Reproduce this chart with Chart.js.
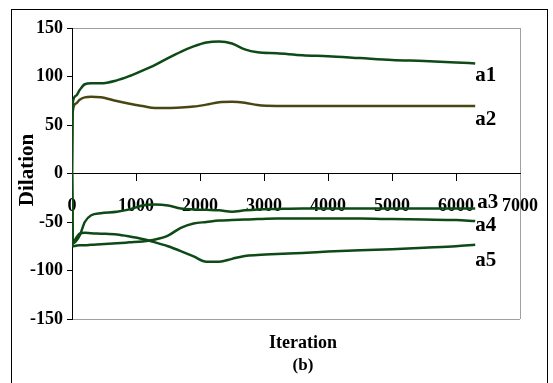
<!DOCTYPE html>
<html>
<head>
<meta charset="utf-8">
<script src="https://cdn.jsdelivr.net/npm/chart.js@4.4.1/dist/chart.umd.min.js"></script>
<style>
  html, body { margin: 0; padding: 0; background: #fff; }
  canvas { display: block; }
</style>
</head>
<body>
<canvas id="dilationChart" width="553" height="383"></canvas>
<script>
// iteration sample points shared by all series
const iterations = [0, 10, 60, 120, 200, 300, 450, 700, 900, 1100, 1300, 1500, 1700, 1900, 2100, 2300, 2500, 2700, 2900, 3200, 3600, 4000, 4500, 5000, 5500, 6000, 6300];

const a1 = [0, 72, 80, 86, 92, 93, 93, 96, 100.5, 106, 112, 119, 125.5, 131, 135, 136, 134, 128, 125, 124, 122, 121, 119, 117, 116, 114.5, 113.5];
const a2 = [0, 63, 72, 76, 78.5, 79, 78.5, 74.7, 72, 69.5, 67.5, 67.5, 68, 69, 71, 73.5, 74, 73, 70.5, 69.6, 69.6, 69.6, 69.6, 69.6, 69.6, 69.6, 69.6];
const a3 = [0, -72, -70, -64, -50, -43, -41, -39.5, -37, -33, -32, -33, -36, -37, -37.5, -38, -39.5, -38, -37, -36.5, -36, -36, -36, -36, -36, -36, -36];
const a4 = [0, -75, -74.5, -74, -74, -73.5, -73, -72, -71, -70, -68, -64, -56, -51.5, -50, -48.5, -48, -47.5, -47, -46.5, -46.5, -46.5, -46.5, -47, -47.5, -48, -49];
const a5 = [0, -72, -67, -62, -61, -61.5, -62, -63, -65, -67.5, -71, -75, -80, -85.5, -91, -91, -88, -85, -84, -83, -82, -80.5, -79, -78, -76.5, -75, -73.5];

const seriesNames = ['a1', 'a2', 'a3', 'a4', 'a5'];
const seriesValues = [a1, a2, a3, a4, a5];
const seriesColors = ['#0d4a16', '#4a4614', '#0d4a16', '#0d4a16', '#0d4a16'];
// end-label offsets (px) from each series' last point
const labelOffsets = [[0, 12], [0, 14], [2, -6], [0, 5], [0, 16]];

const xTicks = [0, 1000, 2000, 3000, 4000, 5000, 6000, 7000];
const yTicks = [-150, -100, -50, 0, 50, 100, 150];

const SERIF = '"Liberation Serif", "Times New Roman", serif';
const GRAY = '#a0a0a0';

const datasets = seriesValues.map((vals, i) => ({
  label: seriesNames[i],
  data: iterations.map((x, k) => ({ x: x, y: vals[k] })),
  borderColor: seriesColors[i],
  backgroundColor: seriesColors[i],
  borderWidth: 2.5,
  pointRadius: 0,
  cubicInterpolationMode: 'monotone',
  fill: false
}));

const decorPlugin = {
  id: 'decor',
  beforeDraw(chart) {
    const c = chart.ctx;
    c.save();
    c.strokeStyle = '#000';
    c.lineWidth = 1;
    c.strokeRect(11.5, 9.5, 536, 400);
    c.restore();
  },
  afterDraw(chart) {
    const c = chart.ctx;
    const xs = chart.scales.x, ys = chart.scales.y;
    c.save();
    c.fillStyle = '#000';
    c.textAlign = 'center';
    c.textBaseline = 'middle';
    c.font = 'bold 18px ' + SERIF;
    c.fillText('Iteration', 303, 343);
    c.font = 'bold 17px ' + SERIF;
    c.fillText('(b)', 303, 366);

    c.save();
    c.translate(28, 170);
    c.rotate(-Math.PI / 2);
    c.font = 'bold 21px ' + SERIF;
    c.fillText('Dilation', 0, 0);
    c.restore();

    // series end labels
    c.textAlign = 'left';
    c.font = 'bold 21px ' + SERIF;
    seriesValues.forEach((vals, i) => {
      const last = vals.length - 1;
      const px = xs.getPixelForValue(iterations[last]) + labelOffsets[i][0];
      const py = ys.getPixelForValue(vals[last]) + labelOffsets[i][1];
      c.fillText(seriesNames[i], px, py);
    });
    c.restore();
  }
};

new Chart(document.getElementById('dilationChart'), {
  type: 'line',
  data: { datasets: datasets },
  options: {
    responsive: false,
    animation: false,
    layout: { padding: { left: 0, top: 28, right: 24, bottom: 64 } },
    plugins: { legend: { display: false }, tooltip: { enabled: false } },
    scales: {
      x: {
        type: 'linear',
        position: { y: 0 },
        min: 0, max: 7000,
        z: 1,
        afterBuildTicks: (s) => { s.ticks = xTicks.map(v => ({ value: v })); },
        ticks: {
          color: '#000', font: { family: SERIF, size: 18, weight: 'bold' },
          padding: 15, maxRotation: 0, autoSkip: false,
          callback: (v) => String(v)
        },
        grid: {
          color: (ctx) => (ctx.tick && ctx.tick.value === 7000) ? GRAY : 'rgba(0,0,0,0)',
          tickColor: (ctx) => (ctx.tick && ctx.tick.value === 7000) ? 'rgba(0,0,0,0)' : '#000',
          tickLength: 7,
          lineWidth: 1
        },
        border: { display: true, color: '#000', width: 1 }
      },
      y: {
        type: 'linear',
        position: 'left',
        min: -150, max: 150,
        afterBuildTicks: (s) => { s.ticks = yTicks.map(v => ({ value: v })); },
        afterFit: (s) => { s.width = 72; },
        ticks: {
          color: '#000', font: { family: SERIF, size: 18, weight: 'bold' }, padding: 4,
          callback: (v) => String(v)
        },
        grid: {
          color: (ctx) => (ctx.tick && Math.abs(ctx.tick.value) === 150) ? GRAY : 'rgba(0,0,0,0)',
          tickColor: '#000',
          tickLength: 5,
          lineWidth: 1
        },
        border: { display: true, color: '#000', width: 1 }
      }
    }
  },
  plugins: [decorPlugin]
});
</script>
</body>
</html>
